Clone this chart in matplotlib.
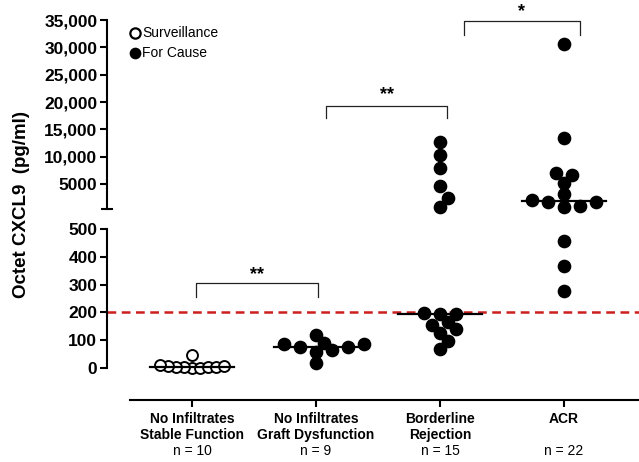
import numpy as np
import matplotlib
matplotlib.use("Agg")
import matplotlib.pyplot as plt
from matplotlib import transforms

plt.rcParams["font.family"] = ["Liberation Sans", "DejaVu Sans"]

# data
cat_lines = ["No Infiltrates\nStable Function", "No Infiltrates\nGraft Dysfunction",
             "Borderline\nRejection", "ACR"]
cat_n = ["n = 10", "n = 9", "n = 15", "n = 22"]
surveillance = [0, 1, 2, 3, 5, 5, 6, 8, 10, 45]
graft_dysf = [18, 58, 65, 76, 76, 86, 86, 90, 119]
borderline = [68, 97, 126, 140, 155, 166, 194, 196, 198,
              820, 2460, 4640, 7900, 10270, 12640]
acr = [277, 367, 457, 820, 1000, 1730, 1730, 2090, 3180,
       5180, 6640, 7000, 13360, 30630]
groups = [surveillance, graft_dysf, borderline, acr]
cutoff = 200
low_ticks = [0, 100, 200, 300, 400, 500]
high_ticks = [5000, 10000, 15000, 20000, 25000, 30000, 35000]
high_labels = ["5000", "10,000", "15,000", "20,000", "25,000", "30,000", "35,000"]
brackets = [(0.03, 1.02, "**"), (1.08, 2.06, "**"), (2.19, 3.13, "*")]

W, H = 639, 462
fig = plt.figure(figsize=(W / 100, H / 100), dpi=100)

def fx(px):
    return px / W

def fy(py):
    return 1 - py / H

x0, x1 = 107, 639
ax_lo = fig.add_axes([fx(x0), fy(400), fx(x1 - x0), (400 - 229) / H])
ax_hi = fig.add_axes([fx(x0), fy(211.5), fx(x1 - x0), (211.5 - 20) / H])

xlim = ((x0 - 192) / 124, (x1 - 192) / 124)
lo_ylim = (-(400 - 368) / 0.278, 500)
hi_ylim = (0, 35000)
for ax in (ax_lo, ax_hi):
    ax.set_xlim(*xlim)
    ax.spines["top"].set_visible(False)
    ax.spines["right"].set_visible(False)
    ax.spines["left"].set_linewidth(1.5)
    ax.spines["bottom"].set_linewidth(1.5)
    ax.tick_params(axis="y", width=1.5, length=5, labelsize=12.5, pad=2)
    ax.patch.set_alpha(0)

ax_lo.set_ylim(*lo_ylim)
ax_hi.set_ylim(*hi_ylim)
ax_lo.spines["left"].set_bounds(0, 500)
ax_lo.spines["bottom"].set_bounds(-0.5, xlim[1])
ax_hi.spines["left"].set_bounds(500, 35000)
ax_hi.spines["bottom"].set_visible(False)
ax_hi.set_xticks([])

ax_lo.set_yticks(low_ticks)
ax_lo.set_yticklabels([str(t) for t in low_ticks], fontweight="bold")
ax_hi.set_yticks(high_ticks)
ax_hi.set_yticklabels(high_labels, fontweight="bold")
ax_hi.set_yticks([500], minor=True)
ax_hi.tick_params(axis="y", which="minor", direction="inout", length=8, width=1.5)

ax_lo.set_xticks(range(4))
ax_lo.set_xticklabels([])
ax_lo.tick_params(axis="x", width=1.5, length=5)

# category labels
tr = transforms.blended_transform_factory(ax_lo.transData, fig.transFigure)
for i, (lab, n) in enumerate(zip(cat_lines, cat_n)):
    ax_lo.text(i, fy(412), lab, transform=tr, ha="center", va="top",
               fontsize=10, fontweight="bold", linespacing=1.15)
    ax_lo.text(i, fy(444), n, transform=tr, ha="center", va="top", fontsize=10)


def swarm(y_px, step=8.0, mind=8.0):
    y_px = np.asarray(y_px, float)
    offs = np.zeros(len(y_px))
    placed = []
    cands = [0]
    for k in range(1, 14):
        cands += [k, -k]
    for i in np.argsort(y_px):
        for k in cands:
            x = k * step
            if all((x - px) ** 2 + (y_px[i] - py) ** 2 >= mind ** 2 - 1e-6
                   for px, py in placed):
                break
        offs[i] = x
        placed.append((x, y_px[i]))
    return offs / 124.0


lo_ppu = 139 / 500
hi_ppu = 191.5 / 35000
for i, vals in enumerate(groups):
    vals = np.asarray(vals, float)
    open_pts = i == 0
    for ax, mask, ppu in ((ax_lo, vals < 500, lo_ppu), (ax_hi, vals >= 500, hi_ppu)):
        v = vals[mask]
        if len(v) == 0:
            continue
        if open_pts:
            xo = swarm(v * ppu, 8.0, 8.0)
            ax.scatter(i + xo, v, s=62, facecolor="white", edgecolor="black",
                       linewidth=1.4, zorder=3, clip_on=False)
        else:
            xo = swarm(v * ppu, 8.0, 10.5)
            ax.scatter(i + xo, v, s=78, color="black", zorder=3, clip_on=False)
    med = np.median(vals)
    ax_m = ax_lo if med < 500 else ax_hi
    ax_m.plot([i - 0.34, i + 0.34], [med, med], color="black", lw=1.6, zorder=4)

ax_lo.axhline(cutoff, color="#cc1f1f", lw=1.8, ls=(0, (3.5, 2.2)), zorder=2)

# significance brackets
def bracket(ax, xa, xb, ytop, yleg, ytxt, txt):
    ax.plot([xa, xa, xb, xb], [yleg, ytop, ytop, yleg], color="#222222", lw=0.9,
            clip_on=False)
    ax.text((xa + xb) / 2, ytxt, txt, ha="center", va="center", fontsize=13,
            fontweight="bold", clip_on=False)

bracket(ax_lo, brackets[0][0], brackets[0][1], 306, 255, 336, brackets[0][2])
bracket(ax_hi, brackets[1][0], brackets[1][1], 19290, 17090, 21300, brackets[1][2])
bracket(ax_hi, brackets[2][0], brackets[2][1], 34820, 32260, 36600, brackets[2][2])

# legend
ax_hi.scatter([(135 - x0) / 532], [(211.5 - 33) / 191.5], s=55, facecolor="white",
              edgecolor="black", linewidth=1.6, transform=ax_hi.transAxes, clip_on=False)
ax_hi.scatter([(135 - x0) / 532], [(211.5 - 53) / 191.5], s=55, color="black",
              transform=ax_hi.transAxes, clip_on=False)
ax_hi.text((142 - x0) / 532, (211.5 - 33) / 191.5, "Surveillance", fontsize=10,
           va="center", transform=ax_hi.transAxes)
ax_hi.text((142 - x0) / 532, (211.5 - 53) / 191.5, "For Cause", fontsize=10,
           va="center", transform=ax_hi.transAxes)

fig.text(fx(22), fy(205), "Octet CXCL9  (pg/ml)", rotation=90, ha="center",
         va="center", fontsize=13.5, fontweight="bold")

fig.savefig("out.png", dpi=100)
